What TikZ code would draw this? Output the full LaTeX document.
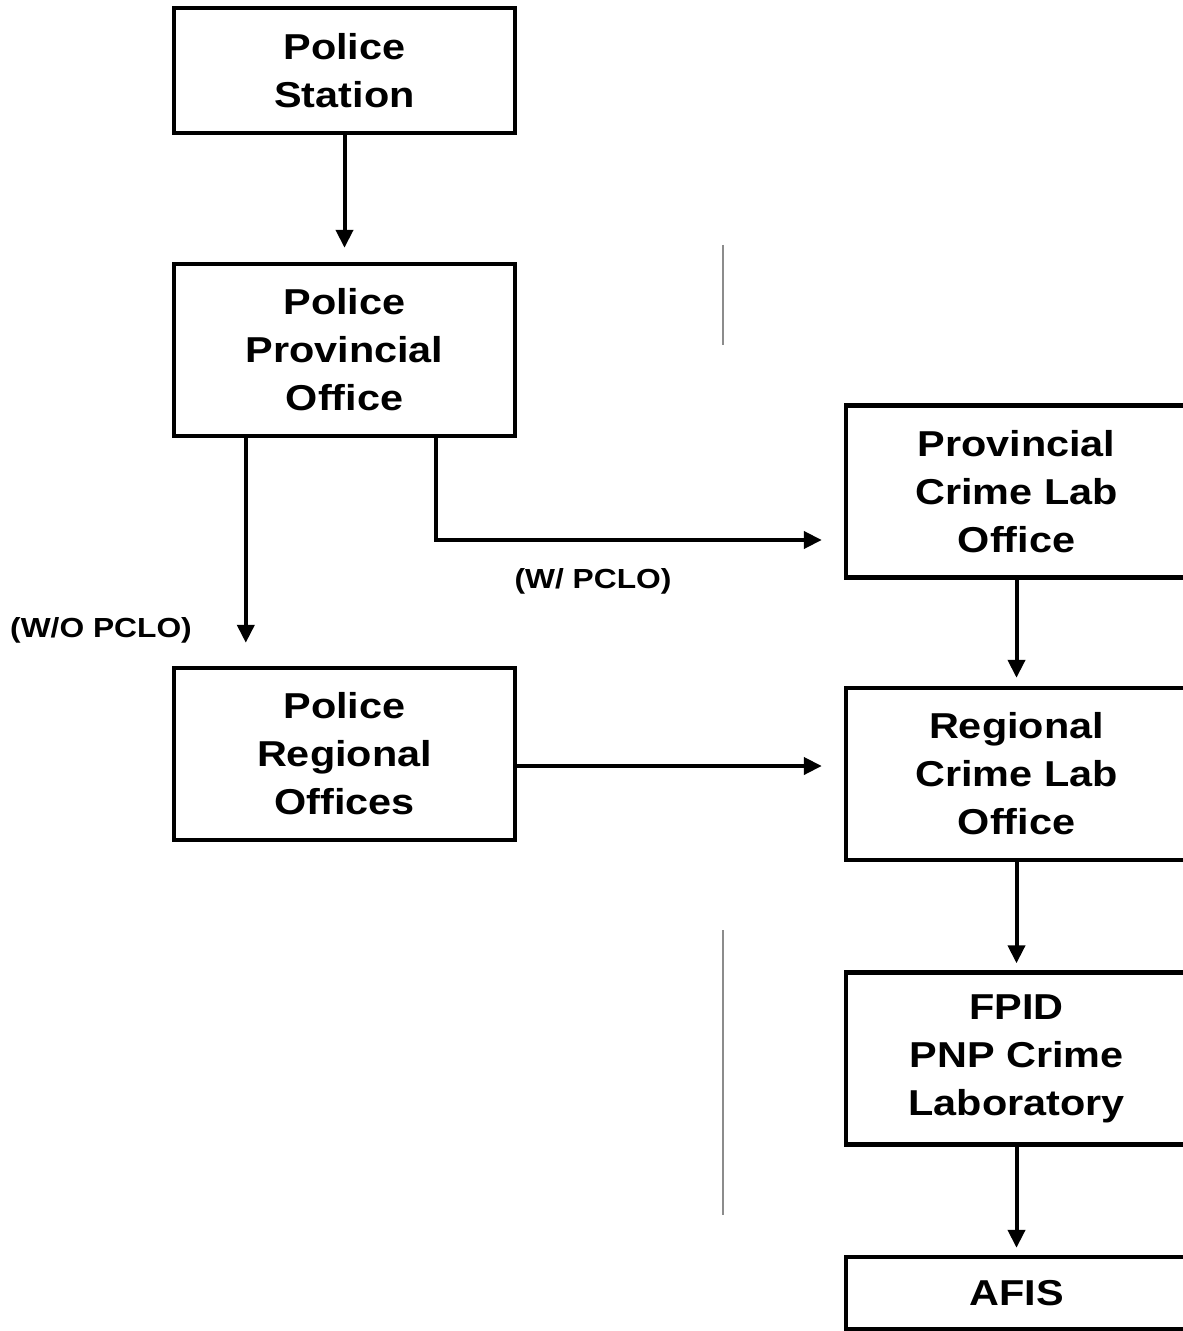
\documentclass[tikz,border=0pt]{standalone}
\usepackage{fontspec}
\setmainfont{Liberation Sans}[FakeStretch=1.15]
\usepackage{tikz}
\usetikzlibrary{arrows.meta,positioning,calc}

\begin{document}
\begin{tikzpicture}[
  x=0.5pt,y=-0.5pt,
  unit/.style={draw=black,line width=2.2pt,fill=white,inner sep=0pt,
               minimum width=170.5pt,minimum height=86pt,align=center,
               font=\fontsize{18}{24}\selectfont\bfseries},
  arr/.style={-{Triangle[length=9pt,width=8.5pt]},line width=2pt},
  tag/.style={font=\fontsize{13.8}{15}\selectfont\bfseries,inner sep=0pt},
  fold/.style={draw=black!45,line width=0.6pt}
]
\useasboundingbox[fill=white] (0,0) rectangle (1182,1331);
% scan fold
\draw[fold] (723,245) -- (723,345);
\draw[fold] (723,930) -- (723,1215);
% left column
\node[unit,minimum height=62.5pt] (station) at (344.5,70.5) {Police\\Station};
\node[unit] (ppo) at (344.5,350) {Police\\Provincial\\Office};
\node[unit] (pro) at (344.5,754) {Police\\Regional\\Offices};
% right column
\node[unit] (pclo) at (1016.5,491.5) {Provincial\\Crime Lab\\Office};
\node[unit] (rclo) at (1016.5,774) {Regional\\Crime Lab\\Office};
\node[unit] (fpid) at (1016.5,1058.5) {FPID\\PNP Crime\\Laboratory};
\node[unit,minimum height=36pt] (afis) at (1016.5,1293) {AFIS};
% labels
\node[tag] (wpclo) at (593,581) {(W/ PCLO)};
\node[tag] (wopclo) at (101,630) {(W/O PCLO)};
% connectors
\draw[arr,shorten >=7pt] (station) -- (ppo);
\draw[arr,shorten >=11.5pt] ([xshift=37pt]ppo.south west) -- ([xshift=37pt]pro.north west);
\draw[arr,shorten >=11pt] ([xshift=132pt]ppo.south west) |- ([yshift=-24.25pt]pclo.west);
\draw[arr,shorten >=11pt] ([yshift=-6pt]pro.east) -- ([yshift=-6pt]pro.east -| pclo.west);
\draw[arr,shorten >=4pt] (pclo) -- (rclo);
\draw[arr,shorten >=3.5pt] (rclo) -- (fpid);
\draw[arr,shorten >=3.5pt] (fpid) -- (afis);
\end{tikzpicture}
\end{document}
